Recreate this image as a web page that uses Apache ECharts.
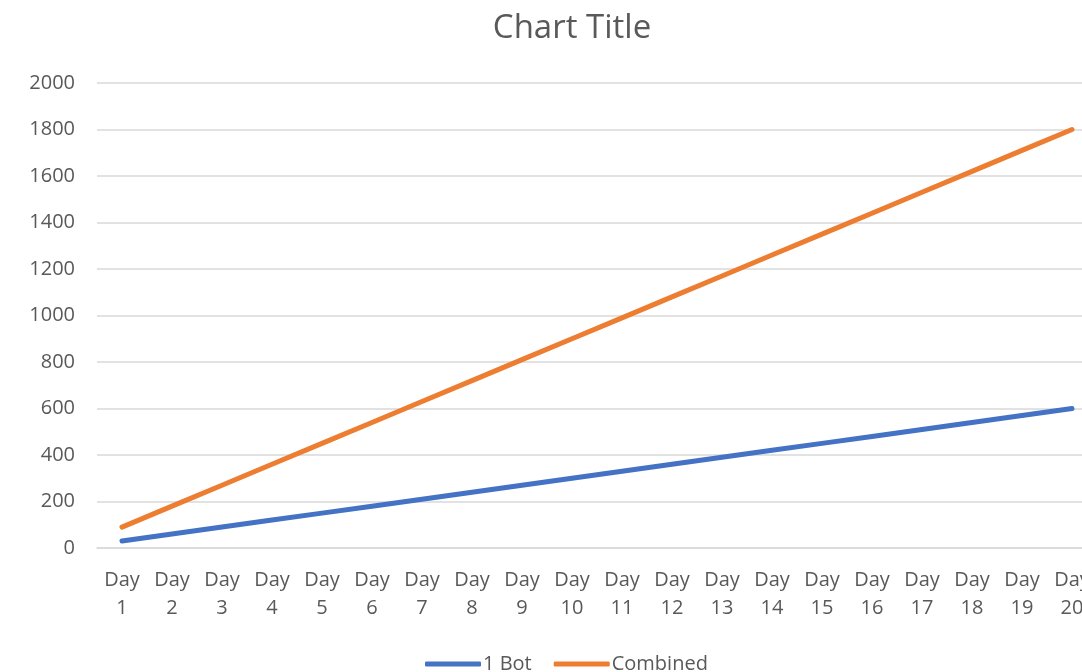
<!DOCTYPE html>
<html>
<head>
<meta charset="utf-8">
<script src="https://cdn.jsdelivr.net/npm/echarts@6/dist/echarts.min.js"></script>
<style>html,body{margin:0;padding:0;background:#fff;overflow:hidden;}#c{width:1100px;height:672px;}</style>
</head>
<body>
<div id="c"></div>
<script>
var categories = ["Day\n1","Day\n2","Day\n3","Day\n4","Day\n5","Day\n6","Day\n7","Day\n8","Day\n9","Day\n10","Day\n11","Day\n12","Day\n13","Day\n14","Day\n15","Day\n16","Day\n17","Day\n18","Day\n19","Day\n20"];
var oneBot = [30,60,90,120,150,180,210,240,270,300,330,360,390,420,450,480,510,540,570,600];
var combined = [90,180,270,360,450,540,630,720,810,900,990,1080,1170,1260,1350,1440,1530,1620,1710,1800];
var seriesNames = ["1 Bot","Combined"];

var FONT = "Open Sans";
var chart = echarts.init(document.getElementById('c'), null, {renderer:'canvas'});
chart.setOption({
  animation: false,
  title: {
    text: 'Chart Title', left: 567, textAlign: 'center', top: 7,
    textStyle: {fontFamily: FONT, fontSize: 33, fontWeight: 'normal', color: '#595959'}
  },
  legend: {
    data: seriesNames, left: 420, top: 649, icon: 'roundRect', itemWidth: 56, itemHeight: 5,
    itemGap: 22,
    textStyle: {fontFamily: FONT, fontSize: 20, color: '#595959', padding: [0,0,0,-3]}
  },
  grid: {left: 97, top: 83, width: 1000, height: 465, containLabel: false},
  xAxis: {
    type: 'category', data: categories, boundaryGap: true,
    axisLine: {show: true, lineStyle: {color: '#D9D9D9', width: 1.5}},
    axisTick: {show: false},
    axisLabel: {interval: 0, fontFamily: FONT, fontSize: 20, color: '#595959', lineHeight: 28, margin: 18}
  },
  yAxis: {
    type: 'value', min: 0, max: 2000, interval: 200,
    axisLine: {show: false}, axisTick: {show: false},
    splitLine: {lineStyle: {color: '#D9D9D9', width: 1.5}},
    axisLabel: {fontFamily: FONT, fontSize: 20, color: '#595959', margin: 22, formatter: function(v){return String(v);}}
  },
  series: [
    {name: seriesNames[0], type: 'line', data: oneBot, symbol: 'none', lineStyle: {color: '#4472C4', width: 5, cap: 'round'}, itemStyle: {color: '#4472C4'}},
    {name: seriesNames[1], type: 'line', data: combined, symbol: 'none', lineStyle: {color: '#ED7D31', width: 5, cap: 'round'}, itemStyle: {color: '#ED7D31'}}
  ]
});
</script>
</body>
</html>
